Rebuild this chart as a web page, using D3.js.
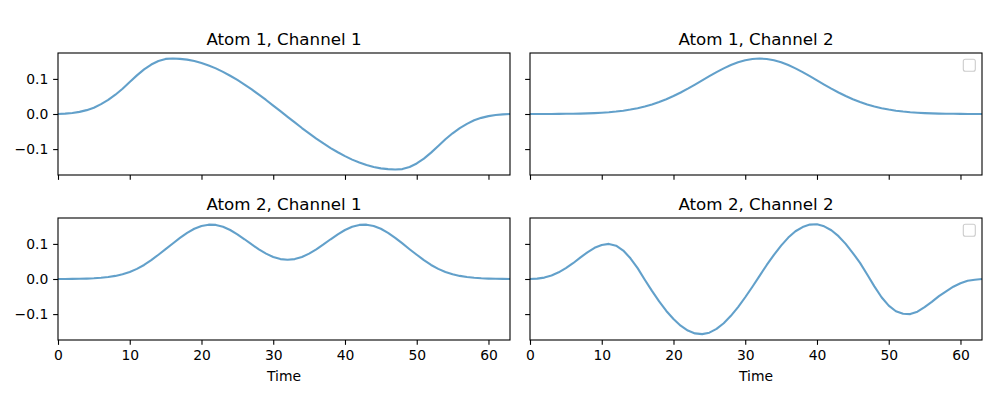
<!DOCTYPE html>
<html>
<head>
<meta charset="utf-8">
<script src="https://cdn.jsdelivr.net/npm/d3@7"></script>
<style>
  body { margin: 0; background: #fff; }
  svg { display: block; font-family: "DejaVu Sans", sans-serif; }
</style>
</head>
<body>
<svg id="chart"></svg>
<script>
// values, one per time step 0..63
var atom1Channel1 = [0.000,0.001,0.003,0.006,0.011,0.018,0.028,0.040,0.055,0.072,
  0.091,0.110,0.127,0.141,0.151,0.157,0.158,0.157,0.155,0.151,
  0.145,0.138,0.130,0.120,0.109,0.097,0.084,0.070,0.055,0.040,
  0.024,0.008,-0.008,-0.024,-0.040,-0.055,-0.070,-0.084,-0.097,-0.109,
  -0.120,-0.130,-0.138,-0.145,-0.151,-0.155,-0.157,-0.158,-0.157,-0.151,
  -0.141,-0.127,-0.110,-0.091,-0.072,-0.055,-0.040,-0.028,-0.018,-0.011,
  -0.006,-0.003,-0.001,0.000];

var atom1Channel2 = [0.0000,0.0001,0.0001,0.0002,0.0003,0.0005,0.0008,0.0012,0.0018,0.0025,
  0.0036,0.0050,0.0069,0.0094,0.0126,0.0165,0.0214,0.0272,0.0342,0.0422,
  0.0513,0.0614,0.0723,0.0839,0.0958,0.1078,0.1193,0.1300,0.1394,0.1473,
  0.1531,0.1568,0.1580,0.1568,0.1531,0.1473,0.1394,0.1300,0.1193,0.1078,
  0.0958,0.0839,0.0723,0.0614,0.0513,0.0422,0.0342,0.0272,0.0214,0.0165,
  0.0126,0.0094,0.0069,0.0050,0.0036,0.0025,0.0018,0.0012,0.0008,0.0005,
  0.0003,0.0002,0.0001,0.0001];

var atom2Channel1 = [0.0001,0.0002,0.0004,0.0007,0.0012,0.0021,0.0035,0.0056,0.0088,0.0135,
  0.0200,0.0288,0.0400,0.0537,0.0691,0.0849,0.1013,0.1171,0.1314,0.1431,
  0.1511,0.1548,0.1541,0.1488,0.1396,0.1273,0.1132,0.0984,0.0844,0.0722,
  0.0627,0.0567,0.0547,0.0567,0.0627,0.0722,0.0844,0.0984,0.1132,0.1273,
  0.1396,0.1488,0.1541,0.1548,0.1511,0.1431,0.1314,0.1171,0.1013,0.0849,
  0.0691,0.0537,0.0400,0.0288,0.0200,0.0135,0.0088,0.0056,0.0035,0.0021,
  0.0012,0.0007,0.0004,0.0002];

var atom2Channel2 = [0.000,0.001,0.004,0.010,0.019,0.031,0.045,0.061,0.076,0.089,
  0.097,0.100,0.095,0.081,0.059,0.031,-0.002,-0.034,-0.064,-0.091,
  -0.114,-0.133,-0.147,-0.155,-0.157,-0.153,-0.142,-0.126,-0.105,-0.080,
  -0.052,-0.022,0.009,0.040,0.069,0.095,0.118,0.136,0.148,0.155,
  0.156,0.150,0.139,0.122,0.100,0.074,0.046,0.013,-0.021,-0.052,
  -0.076,-0.092,-0.099,-0.100,-0.093,-0.080,-0.065,-0.049,-0.035,-0.022,
  -0.012,-0.005,-0.002,0.000];

var titles = ["Atom 1, Channel 1", "Atom 1, Channel 2", "Atom 2, Channel 1", "Atom 2, Channel 2"];
var xTicks = [0, 10, 20, 30, 40, 50, 60];
var yTicks = [-0.1, 0.0, 0.1];
var xLabel = "Time";

var width = 997, height = 399;
var svg = d3.select("#chart").attr("width", width).attr("height", height);

// panel boxes: column lefts and row tops
var colX = [58, 530], rowY = [53, 218];
var panelW = 452, panelH = 122;
var tickLen = 4.86, tickPad = 4.86;

var x = d3.scaleLinear().domain([0, 63]).range([0, panelW]);
var y = d3.scaleLinear().domain([-0.1738, 0.1738]).range([panelH, 0]);

var series = [atom1Channel1, atom1Channel2, atom2Channel1, atom2Channel2];

var line = d3.line()
    .x(function(d, i) { return x(i); })
    .y(function(d) { return y(d); });

var fmt = d3.format(".1f");

series.forEach(function(values, k) {
  var row = Math.floor(k / 2), col = k % 2;
  var g = svg.append("g")
      .attr("transform", "translate(" + colX[col] + "," + rowY[row] + ")");

  g.append("path")
      .datum(values)
      .attr("fill", "none")
      .attr("stroke", "#1f77b4")
      .attr("stroke-opacity", 0.7)
      .attr("stroke-width", 2.1)
      .attr("stroke-linejoin", "round")
      .attr("d", line);

  var xAxis = d3.axisBottom(x).tickValues(xTicks).tickSize(tickLen).tickPadding(tickPad).tickSizeOuter(0);
  if (row === 0) xAxis.tickFormat("");
  var yAxis = d3.axisLeft(y).tickValues(yTicks).tickSize(tickLen).tickPadding(tickPad).tickSizeOuter(0)
      .tickFormat(col === 0 ? fmt : "");

  var gx = g.append("g").attr("transform", "translate(0," + panelH + ")").call(xAxis);
  var gy = g.append("g").call(yAxis);
  [gx, gy].forEach(function(a) {
    a.select(".domain").remove();
    a.selectAll("line").attr("stroke", "#000").attr("stroke-width", 1.1);
    a.selectAll("text").attr("fill", "#000").style("font-size", "13.9px")
        .style("font-family", "'DejaVu Sans', sans-serif");
  });

  // frame
  g.append("rect")
      .attr("width", panelW).attr("height", panelH)
      .attr("fill", "none").attr("stroke", "#000").attr("stroke-width", 1.1);

  g.append("text")
      .attr("x", panelW / 2).attr("y", -8.3)
      .attr("text-anchor", "middle")
      .style("font-size", "16.7px")
      .text(titles[k]);

  if (row === 1) {
    g.append("text")
        .attr("x", panelW / 2).attr("y", panelH + 41)
        .attr("text-anchor", "middle")
        .style("font-size", "13.9px")
        .text(xLabel);
  }

  // empty legend box on the right column
  if (col === 1) {
    g.append("rect")
        .attr("x", panelW - 18.7).attr("y", 6.3)
        .attr("width", 12).attr("height", 12).attr("rx", 2)
        .attr("fill", "#fff").attr("stroke", "#cccccc").attr("stroke-width", 1.1);
  }
});
</script>
</body>
</html>
